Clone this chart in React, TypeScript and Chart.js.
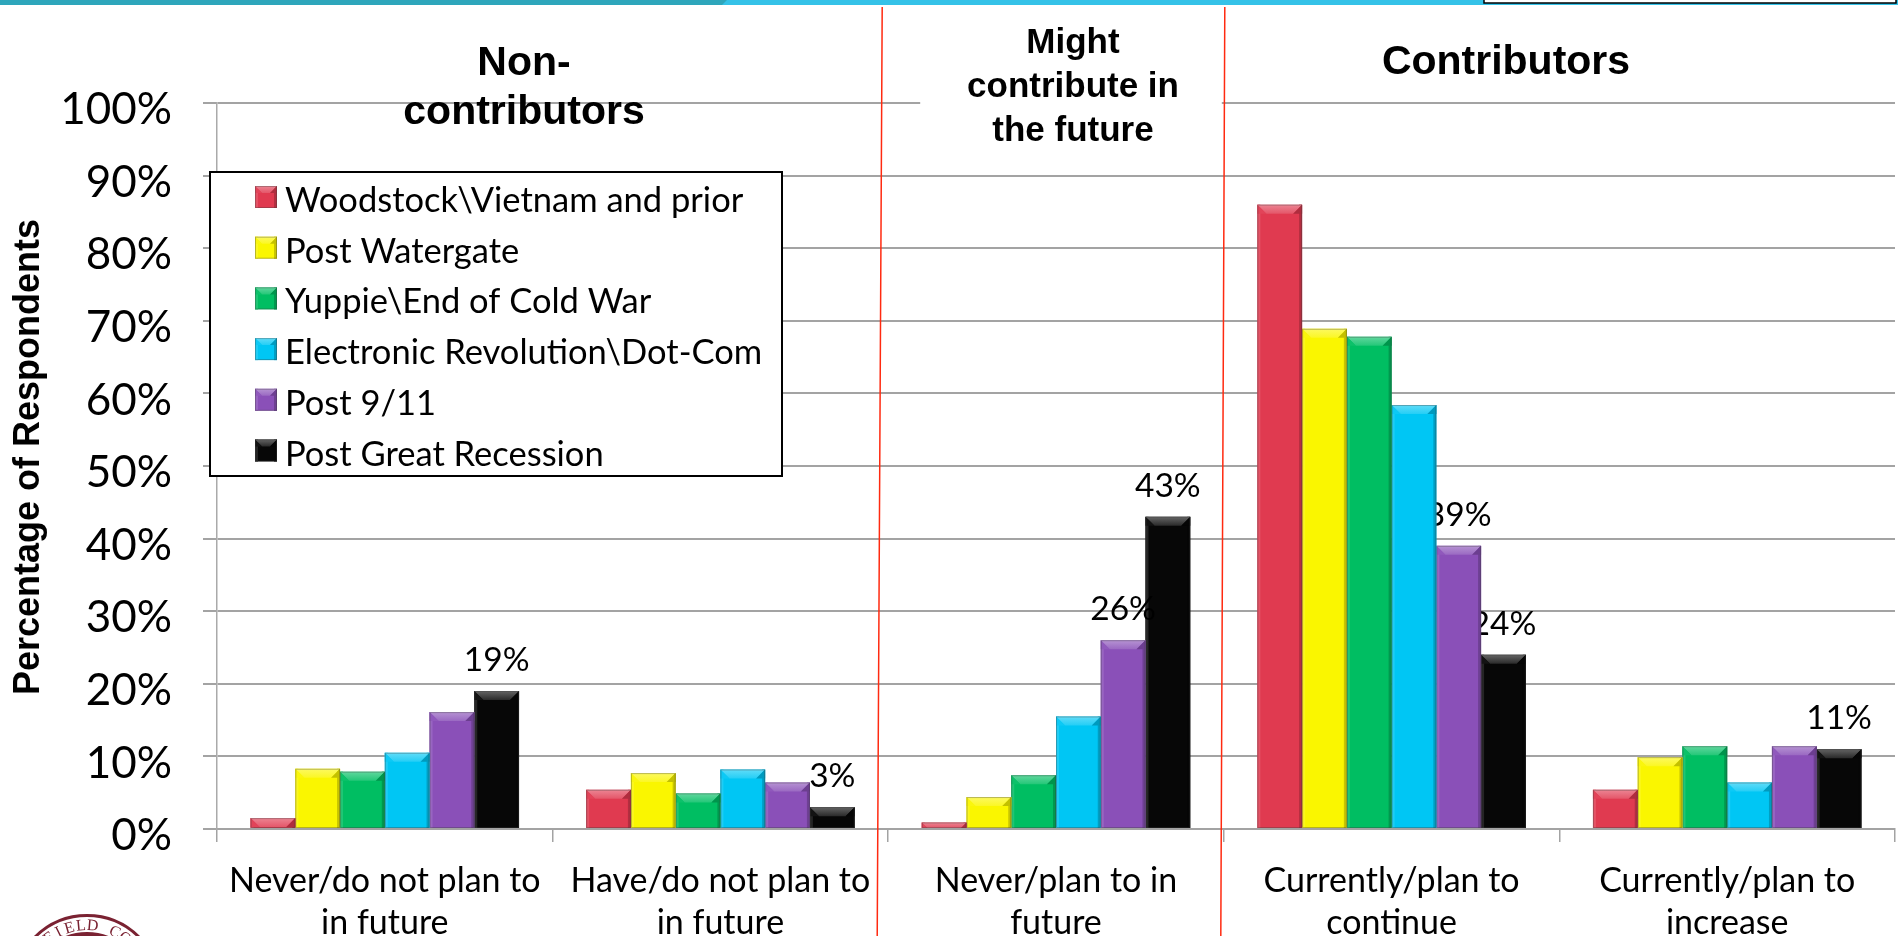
import React, { useEffect, useRef } from 'react';
import { Chart, registerables } from 'chart.js';

Chart.register(...registerables);

// ---- data -------------------------------------------------------------
const CATEGORIES: string[][] = [
  ['Never/do not plan to', 'in future'],
  ['Have/do not plan to', 'in future'],
  ['Never/plan to in', 'future'],
  ['Currently/plan to', 'continue'],
  ['Currently/plan to', 'increase'],
];

const SERIES_NAMES = [
  'Woodstock\\Vietnam and prior',
  'Post Watergate',
  'Yuppie\\End of Cold War',
  'Electronic Revolution\\Dot-Com',
  'Post 9/11',
  'Post Great Recession',
];

const WOODSTOCK_VIETNAM = [1.5, 5.4, 0.9, 86, 5.4];
const POST_WATERGATE = [8.3, 7.7, 4.4, 68.9, 9.9];
const YUPPIE_COLD_WAR = [7.9, 4.9, 7.4, 67.8, 11.4];
const ELECTRONIC_DOTCOM = [10.5, 8.2, 15.5, 58.4, 6.4];
const POST_911 = [16.1, 6.4, 26, 39, 11.4];
const POST_RECESSION = [19, 3, 43, 24, 11];

const SERIES_VALUES = [
  WOODSTOCK_VIETNAM,
  POST_WATERGATE,
  YUPPIE_COLD_WAR,
  ELECTRONIC_DOTCOM,
  POST_911,
  POST_RECESSION,
];

const SERIES_COLORS = ['#E03A50', '#FAF600', '#00BE62', '#00C6F4', '#8A50B8', '#070707'];

// bars that carry a value label: [series, category]
const LABELED_BARS: number[][] = [
  [4, 2], [4, 3],
  [5, 0], [5, 1], [5, 2], [5, 3], [5, 4],
];

const GROUP_TITLES: string[][] = [
  ['Non-', 'contributors'],
  ['Might', 'contribute in', 'the future'],
  ['Contributors'],
];

const Y_AXIS_TITLE = 'Percentage of Respondents';

// ---- styling helpers --------------------------------------------------
const GRID = '#A3A3A3';
const BODY_FONT = 'Lato, "Open Sans", sans-serif';
const TITLE_FONT = '"Liberation Sans", Arial, sans-serif';

function shade(hex: string, amt: number): string {
  const n = parseInt(hex.slice(1), 16);
  let r = (n >> 16) & 255;
  let g = (n >> 8) & 255;
  let b = n & 255;
  const t = amt > 0 ? 255 : 0;
  const p = Math.abs(amt);
  r = Math.round(r + (t - r) * p);
  g = Math.round(g + (t - g) * p);
  b = Math.round(b + (t - b) * p);
  return `rgb(${r},${g},${b})`;
}

function bevelRect(ctx: CanvasRenderingContext2D, L: number, T: number, R: number, B: number, color: string, bev: number) {
  const w = R - L;
  const h = B - T;
  if (h <= 0) return;
  const b = Math.max(1, Math.min(bev, h, w / 3));
  // side shading
  ctx.fillStyle = shade(color, 0.12);
  ctx.fillRect(L, T, Math.min(3, w), h);
  ctx.fillStyle = shade(color, -0.2);
  ctx.fillRect(R - 3, T, 3, h);
  // top chamfer
  const g = ctx.createLinearGradient(0, T, 0, T + b);
  g.addColorStop(0, shade(color, 0.38));
  g.addColorStop(1, shade(color, 0.14));
  ctx.fillStyle = g;
  ctx.beginPath();
  ctx.moveTo(L, T);
  ctx.lineTo(R, T);
  ctx.lineTo(R - b, T + b);
  ctx.lineTo(L + b, T + b);
  ctx.closePath();
  ctx.fill();
  // side facets of the chamfer
  ctx.fillStyle = shade(color, 0.05);
  ctx.beginPath();
  ctx.moveTo(L, T);
  ctx.lineTo(L + b, T + b);
  ctx.lineTo(L, T + b);
  ctx.closePath();
  ctx.fill();
  ctx.fillStyle = shade(color, -0.22);
  ctx.beginPath();
  ctx.moveTo(R, T);
  ctx.lineTo(R - b, T + b);
  ctx.lineTo(R, T + b);
  ctx.closePath();
  ctx.fill();
  // outline
  ctx.strokeStyle = 'rgba(60,60,60,0.35)';
  ctx.lineWidth = 1;
  ctx.strokeRect(L + 0.5, T + 0.5, w - 1, h - 1);
}

// bevelled bars + value labels, drawn right after each series
const barStylePlugin = {
  id: 'barStyle',
  afterDatasetDraw(chart: any, args: any) {
    const ctx: CanvasRenderingContext2D = chart.ctx;
    const si: number = args.index;
    const color = SERIES_COLORS[si];
    ctx.save();
    args.meta.data.forEach((el: any) => {
      const { x, y, base, width } = el.getProps(['x', 'y', 'base', 'width'], true);
      bevelRect(ctx, x - width / 2, y, x + width / 2, base, color, 9);
    });
    ctx.fillStyle = '#000';
    ctx.font = `33.5px ${BODY_FONT}`;
    ctx.textAlign = 'center';
    ctx.textBaseline = 'alphabetic';
    LABELED_BARS.filter((p) => p[0] === si).forEach(([, ci]) => {
      const el = args.meta.data[ci];
      const { x, y } = el.getProps(['x', 'y'], true);
      ctx.fillText(`${SERIES_VALUES[si][ci]}%`, x, y - 20);
    });
    ctx.restore();
  },
};

// group titles, dividers, legend, axis title and page decorations
const decorPlugin = {
  id: 'decor',
  afterDraw(chart: any) {
    const ctx: CanvasRenderingContext2D = chart.ctx;
    const xs = chart.scales.x;
    const half = (xs.getPixelForValue(1) - xs.getPixelForValue(0)) / 2;
    const b1 = xs.getPixelForValue(1) + half;
    const b2 = xs.getPixelForValue(2) + half;
    ctx.save();

    // backing box of the middle title
    ctx.fillStyle = '#fff';
    ctx.fillRect(b1 + 32, 10, b2 - b1 - 34, 150);

    // group titles
    ctx.fillStyle = '#000';
    ctx.textAlign = 'center';
    ctx.textBaseline = 'alphabetic';
    ctx.font = `bold 41px ${TITLE_FONT}`;
    ctx.fillText(GROUP_TITLES[0][0], 524, 75);
    ctx.fillText(GROUP_TITLES[0][1], 524, 124);
    ctx.fillText(GROUP_TITLES[2][0], 1506, 74);
    ctx.font = `bold 35px ${TITLE_FONT}`;
    GROUP_TITLES[1].forEach((line, i) => ctx.fillText(line, 1073, 53 + i * 44));

    // red dividers
    ctx.strokeStyle = '#FF2A10';
    ctx.lineWidth = 1.5;
    ctx.beginPath();
    ctx.moveTo(b1 - 6, 7);
    ctx.lineTo(b1 - 11, 936);
    ctx.moveTo(b2 + 1, 7);
    ctx.lineTo(b2 - 3, 936);
    ctx.stroke();

    // legend
    const lx = 210, ly = 172, lw = 572, lh = 304;
    ctx.fillStyle = '#fff';
    ctx.fillRect(lx, ly, lw, lh);
    ctx.strokeStyle = '#000';
    ctx.lineWidth = 2;
    ctx.strokeRect(lx, ly, lw, lh);
    ctx.font = `34.5px ${BODY_FONT}`;
    ctx.textAlign = 'left';
    SERIES_NAMES.forEach((name, i) => {
      const top = 186 + i * 50.7;
      const c = SERIES_COLORS[i];
      ctx.fillStyle = c;
      ctx.fillRect(255, top, 22, 22);
      bevelRect(ctx, 255, top, 277, top + 22, c, 7);
      ctx.fillStyle = '#000';
      ctx.fillText(name, 285, 212 + i * 50.7);
    });

    // y axis title
    ctx.save();
    ctx.translate(39, 457);
    ctx.rotate(-Math.PI / 2);
    ctx.font = `bold 36px ${TITLE_FONT}`;
    ctx.textAlign = 'center';
    ctx.fillStyle = '#000';
    ctx.fillText(Y_AXIS_TITLE, 0, 0);
    ctx.restore();

    // top banner
    ctx.fillStyle = '#35C2E8';
    ctx.fillRect(0, 0, 1898, 5);
    ctx.fillStyle = '#2EA6BB';
    ctx.beginPath();
    ctx.moveTo(0, 0);
    ctx.lineTo(727, 0);
    ctx.lineTo(722, 5);
    ctx.lineTo(0, 5);
    ctx.closePath();
    ctx.fill();
    ctx.fillStyle = '#fff';
    ctx.fillRect(1484, 0, 412, 3);
    ctx.strokeStyle = '#000';
    ctx.lineWidth = 1.5;
    ctx.strokeRect(1484, -3, 412, 6);

    // college seal, mostly below the page edge
    const cx = 87, cy = 989;
    const maroon = '#7A2232';
    ctx.strokeStyle = maroon;
    ctx.lineWidth = 3;
    ctx.beginPath();
    ctx.arc(cx, cy, 73.5, 0, Math.PI * 2);
    ctx.stroke();
    ctx.lineWidth = 4;
    ctx.beginPath();
    ctx.arc(cx, cy, 55, 0, Math.PI * 2);
    ctx.stroke();
    ctx.fillStyle = maroon;
    ctx.font = `16px "Liberation Serif", serif`;
    ctx.textAlign = 'center';
    const seal = 'BLOOMFIELD COLLEGE';
    for (let i = 0; i < seal.length; i++) {
      const a = ((-89.5 + i * 10.5) * Math.PI) / 180;
      ctx.save();
      ctx.translate(cx + 59 * Math.sin(a), cy - 59 * Math.cos(a));
      ctx.rotate(a);
      ctx.fillText(seal[i], 0, 0);
      ctx.restore();
    }

    ctx.restore();
  },
};

export default function App() {
  const canvasRef = useRef<HTMLCanvasElement | null>(null);

  useEffect(() => {
    document.body.style.margin = '0';
    const canvas = canvasRef.current;
    if (!canvas) return;
    const chart = new Chart(canvas, {
      type: 'bar',
      data: {
        labels: CATEGORIES,
        datasets: SERIES_VALUES.map((vals, i) => ({
          label: SERIES_NAMES[i],
          data: vals,
          backgroundColor: SERIES_COLORS[i],
          borderWidth: 0,
          categoryPercentage: 0.8,
          barPercentage: 1.0,
        })),
      },
      options: {
        responsive: false,
        animation: false,
        devicePixelRatio: 1,
        layout: { padding: { top: 103, right: 3, left: 0, bottom: 0 } },
        plugins: {
          legend: { display: false },
          tooltip: { enabled: false },
          title: { display: false },
        },
        scales: {
          x: {
            grid: { drawOnChartArea: false, drawTicks: true, tickLength: 13, color: GRID, lineWidth: 1.5, offset: true },
            border: { display: true, color: GRID, width: 2 },
            ticks: {
              color: '#000',
              font: { family: BODY_FONT, size: 34, lineHeight: 1.24 },
              padding: 18,
              maxRotation: 0,
              autoSkip: false,
            },
            afterFit: (s: any) => { s.height = 107; },
          },
          y: {
            min: 0,
            max: 100,
            grid: { color: GRID, lineWidth: 2, tickLength: 14 },
            border: { display: true, color: '#AAAAAA', width: 1.5 },
            ticks: {
              stepSize: 10,
              color: '#000',
              font: { family: BODY_FONT, size: 44 },
              padding: 31,
              labelOffset: 7,
              callback: (v: any) => `${v}%`,
            },
            afterFit: (s: any) => { s.width = 217; },
          },
        },
      },
      plugins: [barStylePlugin, decorPlugin],
    } as any);
    return () => chart.destroy();
  }, []);

  return (
    <div style={{ position: 'fixed', left: 0, top: 0, width: 1898, height: 936, background: '#fff' }}>
      <canvas ref={canvasRef} width={1898} height={936} style={{ display: 'block', width: 1898, height: 936 }} />
    </div>
  );
}
